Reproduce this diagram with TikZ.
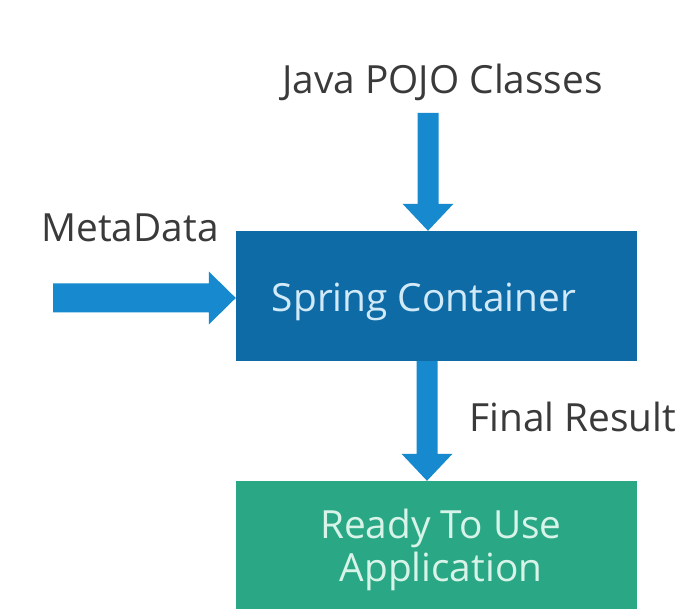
\documentclass[tikz,border=0pt]{standalone}
\usepackage{fontspec}
\setmainfont{Open Sans}
\usetikzlibrary{calc}
\definecolor{boxblue}{HTML}{0E6BA5}
\definecolor{arrowblue}{HTML}{1689CF}
\definecolor{boxgreen}{HTML}{2AA886}
\definecolor{labelgray}{HTML}{3A3A3A}
\definecolor{bluetext}{HTML}{D2EAF8}
\definecolor{greentext}{HTML}{D8F3E8}
% vertical fat arrow: #1 start (gives x and shaft top), #2 target (gives tip y)
\newcommand\fatdown[2]{%
  \fill[arrowblue] let \p1=(#1), \p2=(#2) in
    (\x1-10.5pt,\y1) -- (\x1+10.5pt,\y1) -- (\x1+10.5pt,\y2+27pt) --
    (\x1+25.5pt,\y2+27pt) -- (\x1,\y2) -- (\x1-25.5pt,\y2+27pt) --
    (\x1-10.5pt,\y2+27pt) -- cycle;}
% horizontal fat arrow: #1 start (gives y and shaft start), #2 target (gives tip x)
\newcommand\fatright[2]{%
  \fill[arrowblue] let \p1=(#1), \p2=(#2) in
    (\x1,\y1+14.5pt) -- (\x1,\y1-14.5pt) -- (\x2-27pt,\y1-14.5pt) --
    (\x2-27pt,\y1-26.5pt) -- (\x2,\y1) -- (\x2-27pt,\y1+26.5pt) --
    (\x2-27pt,\y1+14.5pt) -- cycle;}
\begin{document}
\begin{tikzpicture}[x=1pt,y=1pt,
  lbl/.style={font=\fontsize{38.8}{43}\selectfont, text=labelgray, inner sep=0pt, anchor=base},
  blockbox/.style={minimum width=401pt, inner sep=0pt, font=\fontsize{38.8}{43}\selectfont}]
\useasboundingbox (0,0) rectangle (686,609);
\fill[white] (0,0) rectangle (686,609);

\node[blockbox, fill=boxblue, minimum height=130pt, text=bluetext,
      text height=32pt, text depth=0pt] (sc) at (436.5,313) {Spring Container\hspace*{25pt}};
\node[blockbox, fill=boxgreen, minimum height=128pt, text=greentext, align=center]
      (app) at (436.5,64) {\rule{0pt}{39pt}\hspace*{9pt}Ready To Use\\\hspace*{9pt}Application};

\node[lbl] (pojo) at (442.5,515) {Java POJO Classes};
\node[lbl] (meta) at (130,367) {MetaData};
\node[lbl] (fin) at (573,177) {Final Result};

\coordinate (pojoin) at (428,496);
\coordinate (metain) at (53,311);
\coordinate (scout) at ($(sc.south)+(-9.5,0)$);

\fatdown{pojoin}{sc.north}
\fatright{metain}{sc.west}
\fatdown{scout}{app.north}
\end{tikzpicture}
\end{document}
